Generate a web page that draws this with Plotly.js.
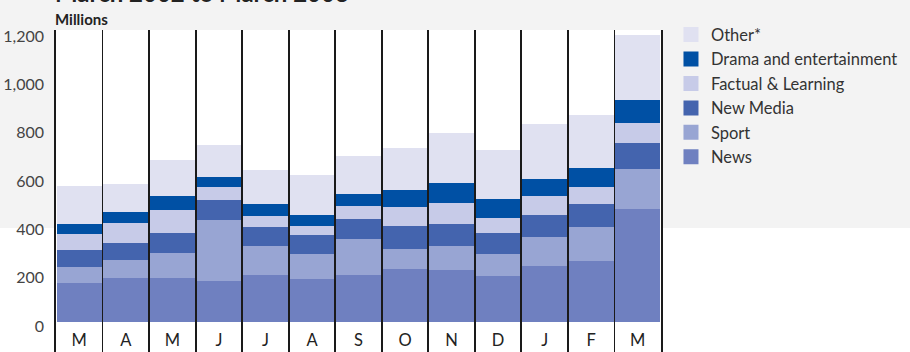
<!DOCTYPE html>
<html>
<head>
<meta charset="utf-8">
<script src="https://cdn.plot.ly/plotly-3.0.1.min.js"></script>
<style>html,body{margin:0;padding:0;background:#fff;}#chart{width:910px;height:352px;}</style>
</head>
<body>
<div id="chart"></div>
<script>
// Categories (March 2002 to March 2003) and their axis letters
const months = ['Mar 02','Apr 02','May 02','Jun 02','Jul 02','Aug 02','Sep 02','Oct 02','Nov 02','Dec 02','Jan 03','Feb 03','Mar 03'];
const monthLetters = ['M','A','M','J','J','A','S','O','N','D','J','F','M'];

// Series values, millions
const news     = [161, 182, 182, 170, 194, 178, 194, 219, 215, 190, 232, 252, 468];
const sport    = [ 67,  75, 103, 252, 120, 103, 149,  83,  99,  91, 120, 141, 165];
const newMedia = [ 70,  70,  83,  83,  79,  79,  83,  95,  91,  87,  91,  95, 108];
const factual  = [ 66,  83,  95,  54,  46,  37,  54,  79,  87,  62,  78,  71,  82];
const drama    = [ 41,  45,  58,  41,  49,  46,  50,  70,  83,  79,  71,  78,  95];
const other    = [159, 116, 149, 132, 141, 165, 157, 174, 207, 203, 227, 219, 269];

const yTicks = [0, 200, 400, 600, 800, 1000, 1200];

const series = [
  {name: 'News', values: news, color: '#6f80c0'},
  {name: 'Sport', values: sport, color: '#98a5d3'},
  {name: 'New Media', values: newMedia, color: '#4464ae'},
  {name: 'Factual & Learning', values: factual, color: '#c7cbe8'},
  {name: 'Drama and entertainment', values: drama, color: '#0050a4'},
  {name: 'Other*', values: other, color: '#e0e1f1'}
];

const font = 'Lato, "Open Sans", sans-serif';
const traces = series.map(s => ({
  type: 'bar', x: months, y: s.values, name: s.name,
  marker: {color: s.color, line: {width: 0}},
  showlegend: false, hoverinfo: 'x+y+name'
}));
// legend entries (square swatches), top to bottom
series.slice().reverse().forEach(s => {
  traces.push({
    type: 'scatter', mode: 'markers', x: [null], y: [null], name: s.name,
    marker: {symbol: 'square', size: 15, color: s.color},
    showlegend: true, hoverinfo: 'skip'
  });
});

const layout = {
  width: 910, height: 352,
  margin: {l: 56, r: 249, t: 30, b: 0, pad: 0},
  paper_bgcolor: '#ffffff', plot_bgcolor: '#ffffff',
  barmode: 'stack', bargap: 0.04,
  font: {family: font, size: 16, color: '#333333'},
  xaxis: {
    type: 'category', categoryorder: 'array', categoryarray: months,
    tickmode: 'array', tickvals: months, ticktext: monthLetters,
    tickson: 'boundaries', ticks: '', showline: false,
    showgrid: true, gridcolor: '#1a1a1a', gridwidth: 1.8,
    ticklabelposition: 'inside', ticklabelstandoff: 0,
    tickfont: {family: font, size: 16.5, color: '#222222'},
    zeroline: false, range: [-0.5, 12.5], fixedrange: true
  },
  yaxis: {
    range: [-124, 1208], tickvals: yTicks, tickformat: ',d',
    showgrid: false, zeroline: false,
    showline: true, mirror: true, linecolor: '#1a1a1a', linewidth: 1.8,
    ticks: '', ticklabelstandoff: 7, ticklabelshift: 4,
    tickfont: {family: font, size: 16, color: '#444444'}, fixedrange: true
  },
  legend: {
    x: 1.0165, xanchor: 'left', y: 1.0393, yanchor: 'top',
    bgcolor: 'rgba(0,0,0,0)', font: {family: font, size: 16.5, color: '#333333'},
    traceorder: 'normal'
  },
  shapes: [
    {type: 'rect', xref: 'paper', yref: 'paper', x0: -0.1, x1: 1.42, y0: 0.385, y1: 1.2,
     fillcolor: '#f3f3f3', line: {width: 0}, layer: 'below'},
    {type: 'rect', xref: 'paper', yref: 'paper', x0: 0, x1: 1, y0: 0, y1: 1,
     fillcolor: '#ffffff', line: {width: 0}, layer: 'below'}
  ],
  annotations: [
    {text: '<b>March 2002 to March 2003</b>', xref: 'paper', yref: 'paper', x: 0, xanchor: 'left',
     y: 1.066, yanchor: 'bottom', showarrow: false, font: {family: font, size: 24, color: '#222222'}, xshift: -3},
    {text: '<b>Millions</b>', xref: 'paper', yref: 'paper', x: 0, xanchor: 'left',
     y: 1.034, yanchor: 'middle', showarrow: false, font: {family: font, size: 15, color: '#222222'}, xshift: -3}
  ]
};

Plotly.newPlot('chart', traces, layout, {displayModeBar: false, staticPlot: true});
</script>
</body>
</html>
